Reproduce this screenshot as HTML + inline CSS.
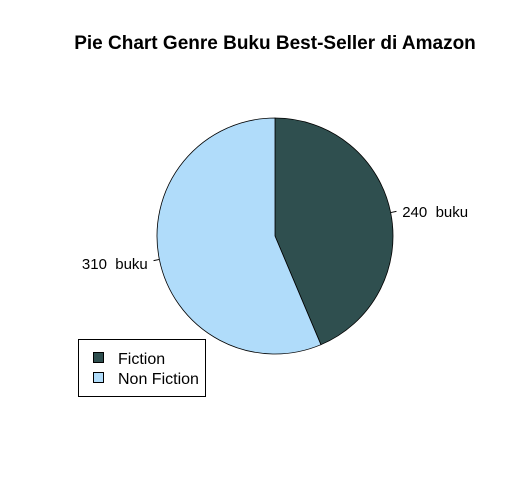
<!DOCTYPE html>
<html><head><meta charset="utf-8"><style>
body{margin:0;background:#fff;}
svg{display:block;font-family:"Liberation Sans",Arial,sans-serif;}
text{white-space:pre;}
</style></head><body>
<svg id="chart" width="513" height="494">
<text x="275" y="49" text-anchor="middle" font-weight="bold" font-size="19">Pie Chart Genre Buku Best-Seller di Amazon</text>
<g id="slices"></g>
<g>
<rect x="78.5" y="339.5" width="127" height="57" fill="#fff" stroke="#000"/>
<rect x="93.5" y="352.5" width="10" height="10" fill="#2F4F4F" stroke="#000"/>
<text x="118" y="364" font-size="16">Fiction</text>
<rect x="93.5" y="372.5" width="10" height="10" fill="#B0DCFA" stroke="#000"/>
<text x="118" y="384" font-size="16">Non Fiction</text>
</g>
</svg>
<script>
const categories = ["Fiction", "Non Fiction"];
const values = [240, 310];
const labels = ["240  buku", "310  buku"];
const colors = ["#2F4F4F", "#B0DCFA"];

const cx = 275, cy = 236, r = 118;
const total = values.reduce((a, b) => a + b, 0);
const g = document.getElementById('slices');
const NS = 'http://www.w3.org/2000/svg';
function pt(a, rad) { return [cx + rad * Math.sin(a), cy - rad * Math.cos(a)]; }
let start = 0;
values.forEach((v, i) => {
  const sweep = v / total * 2 * Math.PI;
  const end = start + sweep;
  const [x0, y0] = pt(start, r), [x1, y1] = pt(end, r);
  const p = document.createElementNS(NS, 'path');
  p.setAttribute('d', `M${cx},${cy} L${x0},${y0} A${r},${r} 0 ${sweep > Math.PI ? 1 : 0} 1 ${x1},${y1} Z`);
  p.setAttribute('fill', colors[i]);
  p.setAttribute('stroke', '#000');
  p.setAttribute('stroke-width', '0.8');
  
  
  g.appendChild(p);
  const mid = start + sweep / 2;
  const [a1, b1] = pt(mid, r), [a2, b2] = pt(mid, r * 1.05), [a3, b3] = pt(mid, r * 1.1);
  const ln = document.createElementNS(NS, 'line');
  ln.setAttribute('x1', a1); ln.setAttribute('y1', b1);
  ln.setAttribute('x2', a2); ln.setAttribute('y2', b2);
  ln.setAttribute('stroke', '#000');
  
  
  g.appendChild(ln);
  const t = document.createElementNS(NS, 'text');
  const right = Math.sin(mid) >= 0;
  t.setAttribute('x', a3);
  t.setAttribute('y', b3 + 7);
  t.setAttribute('font-size', '15');
  t.setAttribute('text-anchor', right ? 'start' : 'end');
  t.textContent = labels[i];
  
  
  g.appendChild(t);
  start = end;
});
</script>
</body></html>
